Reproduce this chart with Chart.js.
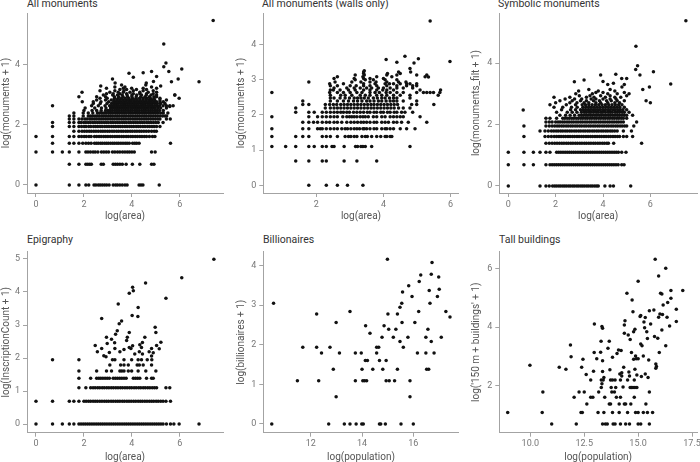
<!DOCTYPE html>
<html><head><meta charset="utf-8">
<script src="https://cdn.jsdelivr.net/npm/chart.js@4.4.1/dist/chart.umd.min.js"></script>
<style>
html,body{margin:0;padding:0;background:#fff;overflow:hidden;width:700px;height:462px;position:relative;}
canvas{position:absolute;}
.ttl{position:absolute;font-family:Roboto,"Liberation Sans",sans-serif;font-size:10.5px;line-height:12px;color:#333;white-space:nowrap;}
</style></head><body>
<div class="ttl" style="left:27px;top:-2px">All monuments</div>
<div class="ttl" style="left:262px;top:-2px">All monuments (walls only)</div>
<div class="ttl" style="left:498px;top:-2px">Symbolic monuments</div>
<div class="ttl" style="left:27px;top:234px">Epigraphy</div>
<div class="ttl" style="left:263px;top:234px">Billionaires</div>
<div class="ttl" style="left:499px;top:234px">Tall buildings</div>
<canvas id="c1" width="230" height="230" style="left:0px;top:0px"></canvas>
<canvas id="c2" width="235" height="230" style="left:230px;top:0px"></canvas>
<canvas id="c3" width="235" height="230" style="left:465px;top:0px"></canvas>
<canvas id="c4" width="230" height="236" style="left:0px;top:232px"></canvas>
<canvas id="c5" width="235" height="236" style="left:230px;top:232px"></canvas>
<canvas id="c6" width="235" height="236" style="left:465px;top:232px"></canvas>
<script>
// ---------- Panel 1: All monuments (y level -> x values) ----------
const p1Levels = [0,0.69,1.1,1.39,1.61,1.79,1.95,2.08,2.2,2.3,2.4,2.48,2.56,2.64,2.71,2.77,2.83,2.89,2.94,3.0,3.04,3.09,3.14,3.18,3.22,3.26,3.33];
const p1Rows = [
[0,1.39,1.79,2.08,2.2,2.42,2.5,2.6,2.68,2.77,2.86,2.95,3.05,3.22,3.32,3.4,3.5,3.6,3.71,3.8,4.3,4.38,4.46,5.14],
[1.39,1.79,2.08,2.16,2.24,2.31,2.72,2.81,3.22,3.31,3.4,3.5,3.6,3.76,4.02,4.33,4.82,4.92],
[0,0.69,1.1,1.39,1.79,2.08,2.17,2.27,2.38,2.47,2.58,2.73,2.83,2.93,3.03,3.19,3.29,3.4,3.5,3.61,3.71,3.81,3.9,4.0,4.1,4.82,4.97],
[0.69,1.39,1.58,1.79,1.95,2.08,2.19,2.3,2.44,2.52,2.6,2.69,2.77,2.86,2.94,3.02,3.11,3.2,3.28,3.37,3.45,3.54,3.63,3.72,3.8,3.89,4.03,4.12,4.2,4.3],
[0,0.69,1.39,1.58,1.79,1.9,2.01,2.1,2.21,2.3,2.44,2.53,2.63,2.72,2.82,2.91,3.0,3.1,3.19,3.29,3.38,3.47,3.57,3.66,3.76,3.85,3.95,4.04,4.14,4.23,4.33,4.42,4.52,4.61,4.73,4.86,4.96],
[1.58,1.79,1.92,2.02,2.12,2.22,2.31,2.41,2.5,2.6,2.7,2.79,2.88,2.98,3.07,3.17,3.26,3.36,3.45,3.55,3.64,3.74,3.83,3.93,4.02,4.12,4.21,4.31,4.4,4.5,4.6,4.7,4.82,4.93,5.02],
[0.69,1.39,1.58,1.79,1.9,2.01,2.09,2.2,2.29,2.4,2.49,2.58,2.68,2.77,2.87,2.96,3.05,3.15,3.24,3.33,3.43,3.52,3.61,3.71,3.8,3.9,3.99,4.08,4.18,4.27,4.36,4.46,4.55,4.65,4.74,4.84,4.93,5.03,5.17],
[0.69,1.39,1.58,1.79,1.88,1.99,2.08,2.18,2.27,2.37,2.46,2.56,2.65,2.74,2.84,2.93,3.02,3.12,3.21,3.31,3.4,3.49,3.59,3.68,3.77,3.87,3.96,4.06,4.15,4.24,4.34,4.43,4.52,4.62,4.71,4.8,4.9,5.0,5.1,5.3],
[1.39,1.58,1.79,1.92,2.04,2.13,2.24,2.33,2.43,2.52,2.62,2.71,2.8,2.9,2.99,3.09,3.18,3.27,3.37,3.46,3.56,3.65,3.74,3.84,3.93,4.03,4.12,4.21,4.31,4.4,4.5,4.59,4.68,4.78,4.88,4.98,5.08,5.17,5.44],
[1.39,1.58,1.97,2.18,2.27,2.36,2.46,2.55,2.64,2.74,2.83,2.92,3.02,3.11,3.2,3.3,3.39,3.48,3.58,3.67,3.76,3.86,3.95,4.04,4.14,4.23,4.32,4.42,4.51,4.6,4.7,4.79,4.88,4.98,5.07,5.17,5.28,5.38],
[1.58,1.97,2.18,2.37,2.56,2.65,2.75,2.84,2.93,3.03,3.12,3.21,3.31,3.4,3.49,3.59,3.68,3.77,3.87,3.96,4.05,4.15,4.24,4.33,4.43,4.52,4.61,4.71,4.8,4.9,4.99,5.09,5.2,5.31,5.5],
[2.0,2.34,2.53,2.72,2.9,3.0,3.09,3.18,3.28,3.37,3.46,3.56,3.65,3.74,3.84,3.93,4.02,4.12,4.21,4.3,4.4,4.49,4.58,4.68,4.77,4.86,4.96,5.05,5.15,5.31],
[2.05,2.45,2.73,2.92,3.11,3.2,3.29,3.39,3.48,3.57,3.67,3.76,3.85,3.95,4.04,4.13,4.23,4.32,4.41,4.51,4.6,4.69,4.79,4.88,4.97,5.08,5.2,5.44],
[0.69,2.32,2.6,2.88,3.07,3.16,3.26,3.35,3.44,3.54,3.63,3.72,3.82,3.91,4.0,4.1,4.19,4.28,4.38,4.47,4.56,4.66,4.75,4.84,4.94,5.04,5.15,5.3,5.44,5.58,5.72],
[2.39,2.68,2.96,3.15,3.25,3.34,3.43,3.53,3.62,3.71,3.81,3.9,3.99,4.09,4.18,4.27,4.37,4.46,4.55,4.65,4.74,4.84,4.95,5.06,5.2,5.38],
[1.93,2.39,2.71,3.03,3.24,3.34,3.45,3.55,3.66,3.76,3.87,3.97,4.08,4.18,4.29,4.39,4.5,4.6,4.71,4.81,4.92,5.03,5.17,5.31],
[2.53,2.9,3.14,3.26,3.38,3.5,3.62,3.74,3.86,3.98,4.1,4.22,4.34,4.46,4.58,4.7,4.82,4.95,5.17,5.44],
[2.67,2.97,3.27,3.42,3.57,3.72,3.87,4.02,4.17,4.32,4.47,4.62,4.77,4.92,5.17,5.97],
[1.79,2.53,2.9,3.27,3.45,3.63,3.82,4.0,4.18,4.37,4.55,4.73,4.92,5.03],
[2.81,3.2,3.4,3.6,3.8,4.0,4.2,4.4,4.6,4.8,5.03,5.79],
[2.94,3.22,3.5,3.78,4.06,4.33,4.61,4.89],
[1.92,3.08,3.43,3.64,3.92,4.33,4.68,5.03],
[2.67,3.29,3.67,4.06,4.47,4.89],
[3.5,3.78,4.19,4.61],
[2.94,3.64,3.99,4.47,5.03],
[3.29,3.71,4.82],
[3.57,4.58]
];
const p1Extra = [[7.39,5.48],[5.33,4.7],[5.42,4.06],[5.33,3.94],[6.08,3.86],[6.8,3.44],[5.93,3.53],[5.65,3.44],[5.79,3.0],[5.54,3.78],[5.03,3.61],[4.82,3.78],[4.47,3.74],[3.88,3.72],[4.06,3.59],[3.19,3.53],[5.61,1.39],[5.58,2.61],[4.9,3.45],[4.6,3.4],[5.2,3.3],[3.3,3.4],[2.7,3.3],[5.45,2.3],[5.6,2.2]];

// ---------- Panel 2: All monuments (walls only) ----------
const p2Levels = [0,0.69,1.1,1.39,1.61,1.79,1.95,2.08,2.2,2.3,2.4,2.48,2.56,2.64,2.71,2.77,2.83,2.89,2.94,3.0,3.04,3.09,3.14,3.18,3.22,3.26];
const p2Rows = [
[1.78,2.3,2.63,2.93,3.39],
[1.39,1.78,2.18,2.3,2.83,3.21,3.8],
[0.68,1.09,1.39,1.78,1.94,2.18,2.3,2.47,2.53,2.83,3.17,3.23,3.33,3.39,3.46,3.65,4.79],
[0.68,1.39,1.6,1.78,2.18,2.3,2.42,2.63,2.86,2.96,3.03,3.13,3.21,3.36,3.46,3.52,3.65,3.8,3.92,4.05,4.1,4.2,4.25],
[0.68,1.6,1.78,2.04,2.12,2.18,2.3,2.42,2.53,2.63,2.76,2.86,2.93,3.03,3.13,3.21,3.29,3.39,3.43,3.5,3.6,3.72,3.8,3.95,4.05,4.1,4.2,4.3,4.5,4.69,4.94],
[1.6,1.78,1.92,2.04,2.18,2.3,2.4,2.53,2.63,2.76,2.91,3.03,3.13,3.23,3.33,3.41,3.5,3.6,3.72,3.8,3.95,4.05,4.15,4.3,4.4,4.54,4.74,5.29],
[0.68,1.78,2.04,2.18,2.3,2.42,2.53,2.63,2.79,2.91,2.99,3.06,3.13,3.21,3.31,3.39,3.46,3.55,3.7,3.8,3.95,4.05,4.2,4.3,4.4,4.5,4.59,5.09],
[1.39,1.78,1.94,2.18,2.3,2.42,2.53,2.63,2.73,2.81,2.91,2.99,3.11,3.21,3.31,3.41,3.52,3.6,3.72,3.8,3.92,4.0,4.12,4.2,4.32,4.4,4.54,4.64,4.87],
[1.39,2.27,2.42,2.53,2.63,2.73,2.83,2.93,3.03,3.13,3.23,3.33,3.43,3.53,3.63,3.72,3.82,3.92,4.02,4.12,4.22,4.32,4.45,4.59,4.79],
[1.6,1.78,2.27,2.4,2.51,2.61,2.73,2.83,2.93,3.03,3.13,3.23,3.33,3.43,3.53,3.63,3.72,3.82,3.92,4.02,4.12,4.22,4.32,4.42,4.84,4.99,5.5],
[1.6,2.42,2.63,2.81,2.96,3.11,3.23,3.36,3.5,3.6,3.72,3.85,3.95,4.08,4.2,4.3,4.4,4.59,4.99],
[2.42,2.53,2.71,2.86,2.99,3.13,3.23,3.33,3.43,3.55,3.7,3.82,3.95,4.05,4.18,4.3,4.4,4.79],
[2.42,2.73,2.86,3.06,3.31,3.46,3.6,3.8,3.95,4.1,4.3,4.5,4.79,5.63],
[0.68,2.4,2.63,2.81,3.01,3.21,3.36,3.6,3.75,3.88,4.08,4.2,4.4,4.59,4.99,5.19,5.29,5.39,5.49,5.68],
[2.42,2.51,2.71,2.96,3.16,3.41,3.6,3.8,3.98,4.1,4.3,5.09,5.7],
[2.53,2.91,3.13,3.31,3.5,3.65,3.85,4.0,4.2,4.4,4.59,4.87],
[2.42,2.63,3.01,3.19,3.41,3.6,3.8,4.1,4.4,4.69,4.87,4.99],
[2.4,2.81,3.41,3.75,4.05,4.18,4.3,4.5,4.69,4.79,4.99],
[1.78,2.56,3.06,3.33,3.6,3.78,4.1,4.45,4.67],
[3.16,3.46,3.7,4.05,4.4],
[2.53,3.13,3.41,3.6,4.0],
[2.63,3.39,3.8,4.25,5.24],
[3.16,3.43,4.1,4.4,4.99],
[3.41,4.12,4.5],
[3.41,4.45,4.81],
[3.43]
];
const p2Extra = [[5.39,4.67],[5.98,3.52],[4.08,3.58],[4.64,3.67],[5.04,3.6],[4.4,3.5],[4.91,3.48],[4.79,3.32],[5.29,3.14],[5.34,3.08]];

// ---------- Panel 3: Symbolic monuments ----------
const p3Levels = [0,0.69,1.1,1.39,1.61,1.79,1.95,2.08,2.2,2.3,2.4,2.48,2.56,2.64,2.71,2.77,2.83,2.89,2.94,3.0,3.04,3.09,3.14,3.22];
const p3Rows = [
[0,1.34,1.59,1.73,1.87,1.96,2.04,2.13,2.21,2.3,2.38,2.46,2.55,2.63,2.72,2.8,2.89,2.97,3.06,3.14,3.22,3.31,3.39,3.48,3.56,3.65,3.73,3.8,4.08,4.3,4.44,5.17],
[0,0.66,1.06,1.59,1.76,1.85,1.94,2.03,2.12,2.21,2.3,2.39,2.48,2.57,2.66,2.75,2.84,2.93,3.02,3.11,3.2,3.29,3.38,3.47,3.56,3.65,3.74,3.83,3.92,4.01,4.1,4.19,4.28,4.37,4.46,4.55,4.64,4.79,4.89],
[0,0.66,1.06,1.34,1.59,1.76,2.04,2.13,2.22,2.31,2.4,2.49,2.58,2.67,2.76,2.85,2.94,3.03,3.12,3.21,3.3,3.39,3.48,3.57,3.66,3.75,3.84,3.93,4.02,4.11,4.2,4.29,4.38,4.47,4.56,4.65,4.79,4.97],
[1.59,1.73,1.85,1.96,2.06,2.16,2.26,2.35,2.45,2.54,2.64,2.73,2.83,2.92,3.02,3.11,3.21,3.3,3.4,3.49,3.59,3.68,3.78,3.87,3.97,4.06,4.16,4.23,4.45,5.63],
[0.66,1.55,1.69,1.82,1.94,2.04,2.14,2.23,2.33,2.42,2.52,2.61,2.71,2.8,2.9,2.99,3.09,3.18,3.28,3.37,3.47,3.56,3.66,3.75,3.85,3.94,4.04,4.13,4.23,4.32,4.42,4.51,4.61,4.7,4.86,5.0,5.25],
[1.34,1.55,1.69,1.82,1.92,2.02,2.11,2.21,2.3,2.4,2.49,2.59,2.68,2.78,2.87,2.97,3.06,3.16,3.25,3.35,3.44,3.54,3.63,3.73,3.82,3.92,4.01,4.11,4.2,4.3,4.39,4.49,4.6,4.86,5.2],
[0.66,1.59,1.73,1.85,1.96,2.06,2.15,2.25,2.34,2.44,2.53,2.63,2.72,2.82,2.91,3.01,3.1,3.2,3.29,3.39,3.48,3.58,3.67,3.77,3.86,3.96,4.05,4.15,4.24,4.34,4.43,4.53,4.62,4.72,4.81,4.91,5.0,5.3],
[1.59,1.73,1.85,2.0,2.1,2.19,2.29,2.38,2.48,2.57,2.67,2.76,2.86,2.95,3.05,3.14,3.24,3.33,3.43,3.52,3.62,3.71,3.81,3.9,4.0,4.09,4.19,4.28,4.38,4.47,4.57,4.66,4.76,4.86,5.42],
[1.59,1.76,2.04,2.3,2.39,2.49,2.58,2.68,2.77,2.87,2.96,3.06,3.15,3.25,3.34,3.44,3.53,3.63,3.72,3.82,3.91,4.01,4.1,4.2,4.29,4.39,4.48,4.58,4.67,4.77,4.86,5.0],
[2.18,2.42,2.61,2.8,2.99,3.09,3.18,3.28,3.37,3.47,3.56,3.66,3.75,3.85,3.94,4.04,4.13,4.23,4.32,4.42,4.51,4.61,4.7,4.8,4.9,5.0,5.25],
[2.04,2.49,2.7,2.9,3.09,3.21,3.3,3.41,3.49,3.6,3.71,3.8,3.91,3.99,4.1,4.21,4.3,4.39,4.51,4.6,4.7,4.81,4.9,5.1],
[2.25,2.63,2.84,3.05,3.16,3.26,3.37,3.47,3.58,3.68,3.79,3.89,4.0,4.1,4.21,4.31,4.42,4.52,4.63,4.73,4.84,5.0],
[1.93,2.3,2.67,2.91,3.15,3.27,3.39,3.51,3.63,3.75,3.87,3.99,4.11,4.23,4.35,4.47,4.59,4.71,4.9],
[1.76,2.45,2.84,3.12,3.26,3.4,3.54,3.68,3.82,3.96,4.1,4.24,4.38,4.52,4.66,4.8],
[2.0,2.6,2.9,3.2,3.4,3.7,3.9,4.2,4.5,4.7,6.0],
[2.18,2.7,3.05,3.3,3.6,3.85,4.15,4.35,4.6,4.9,5.82],
[2.4,2.8,3.1,3.5,3.7,4.0,4.3,4.55],
[1.93,2.6,3.3,3.62,4.1,4.5,4.75],
[3.0,3.45,3.9,4.3,5.0],
[2.85,3.55,4.2,4.6,5.1],
[3.7,4.0,4.9],
[2.97,3.8,4.5],
[3.4,4.3,5.68],
[4.8,5.96]
];
const p3Extra = [[7.5,5.38],[5.39,4.55],[5.46,3.91],[5.38,3.79],[6.13,3.72],[5.56,3.61],[6.86,3.32],[3.9,3.61],[4.54,3.64],[4.79,3.5],[5.0,3.5],[3.2,3.45],[4.44,3.34],[2.79,3.39],[0.63,2.47],[4.2,3.3],[4.9,3.3],[4.0,3.4]];

// ---------- Panel 4: Epigraphy ----------
const p4Levels = [0,0.69,1.1,1.39,1.61,1.79,1.95];
const p4Rows = [
[0,0.69,1.1,1.39,1.58,1.79,1.88,1.97,2.06,2.15,2.24,2.33,2.42,2.51,2.6,2.69,2.78,2.87,2.96,3.05,3.14,3.23,3.32,3.41,3.5,3.59,3.68,3.77,3.86,3.95,4.04,4.13,4.22,4.31,4.4,4.49,4.58,4.67,4.76,4.85,4.94,5.03,5.12,5.21,5.3,5.44,5.61,5.75,5.97,6.8],
[0,0.69,1.39,1.58,1.79,2.0,2.09,2.19,2.28,2.38,2.47,2.56,2.66,2.75,2.85,2.94,3.03,3.13,3.22,3.32,3.41,3.5,3.6,3.69,3.79,3.88,3.97,4.07,4.16,4.26,4.35,4.44,4.54,4.63,4.73,4.82,4.91,5.01,5.1,5.2,5.3,5.42,5.61],
[1.79,2.08,2.28,2.38,2.47,2.57,2.66,2.76,2.85,2.95,3.04,3.14,3.23,3.33,3.42,3.52,3.61,3.71,3.8,3.9,3.99,4.09,4.18,4.28,4.37,4.47,4.56,4.66,4.75,4.85,4.94,5.03,5.42,5.58],
[1.79,2.28,2.53,2.62,2.7,2.79,2.88,2.97,3.06,3.22,3.31,3.4,3.49,3.58,3.67,3.76,4.06,4.15,4.24,4.33,4.61,4.82,4.89],
[1.79,2.53,2.94,3.15,3.5,3.58,3.67,3.85,3.99,4.26,4.58,5.0],
[3.08,3.53,3.67,3.85,4.22,4.31,4.47,4.82],
[0.69,1.79,3.19,3.29,3.67,3.99,4.26,4.4,4.64,4.83]
];
const p4Extra = [[7.42,4.99],[6.08,4.43],[4.57,4.27],[4.03,4.14],[4.06,4.04],[3.89,3.96],[5.42,3.81],[3.43,3.64],[4.26,3.53],[3.57,3.12],[3.47,3.04],[2.74,3.2],[4.01,3.29],[4.25,3.26],[3.39,2.83],[3.32,2.72],[4.97,2.93],[5.0,2.77],[3.89,2.77],[2.94,2.63],[3.81,2.63],[4.54,2.63],[3.15,2.57],[3.28,2.46],[2.47,2.38],[3.78,2.53],[5.21,2.48],[4.44,2.47],[5.03,2.38],[5.14,2.28],[2.56,2.19],[2.74,2.29],[2.97,2.44],[2.83,2.07],[3.06,2.17],[3.29,2.29],[3.5,2.19],[3.67,2.26],[3.89,2.32],[3.96,2.29],[4.03,2.37],[4.12,2.12],[4.31,2.19],[4.44,2.12],[4.72,2.19],[4.82,2.06],[4.89,2.16],[4.33,2.4],[4.4,2.32],[4.82,2.29],[2.92,2.04]];

// ---------- Panel 5: Billionaires [log(population), log(billionaires+1)] ----------
const p5Pts = [[10.48,0],[10.55,3.05],[11.48,1.09],[11.69,1.94],[12.23,2.78],[12.23,1.94],[12.31,1.09],[12.42,1.79],[12.7,0],[12.75,1.94],[12.88,1.38],[12.99,2.56],[12.99,0.69],[13.12,1.79],[13.31,0],[13.53,2.84],[13.53,0],[13.74,1.79],[13.74,1.09],[13.77,0],[13.97,1.79],[14.0,1.38],[13.99,0],[14.05,0],[14.03,1.09],[14.1,1.09],[14.18,1.09],[14.13,1.6],[14.21,1.6],[14.14,2.48],[14.31,2.29],[14.42,1.38],[14.57,1.94],[14.65,1.94],[14.57,1.79],[14.68,1.6],[14.68,0],[14.73,0],[14.78,2.19],[14.81,1.38],[14.86,2.48],[14.91,0],[14.94,1.6],[14.94,1.09],[14.99,4.16],[15.01,2.78],[15.04,2.39],[15.06,1.09],[15.22,2.19],[15.27,1.09],[15.32,2.39],[15.38,2.78],[15.38,1.38],[15.48,2.95],[15.48,2.08],[15.52,0],[15.55,3.05],[15.56,2.56],[15.58,3.33],[15.61,1.94],[15.79,2.19],[15.82,3.49],[15.87,1.09],[15.87,0.69],[15.95,3.22],[16.0,0],[16.06,2.56],[16.16,1.79],[16.21,2.84],[16.23,3.6],[16.29,3.76],[16.49,1.79],[16.49,2.19],[16.52,1.38],[16.6,1.38],[16.57,2.39],[16.62,3.37],[16.65,3.05],[16.7,2.08],[16.73,4.08],[16.7,3.78],[16.81,1.79],[16.94,3.22],[16.99,3.71],[17.01,3.4],[17.09,2.19],[17.27,2.84],[17.43,2.7]];

// ---------- Panel 6: Tall buildings [log(population), log(150 m+ buildings + 1)] ----------
const p6Pts = [[8.95,1.08],[9.98,2.7],[10.55,1.08],[10.58,1.78],[10.99,0.69],[11.34,2.63],[11.65,2.56],[11.86,3.39],[11.89,2.99],[12.03,1.6],[12.13,0.69],[12.26,1.78],[12.35,1.08],[12.41,1.08],[12.38,2.63],[12.44,2.9],[12.5,1.78],[12.59,2.38],[12.62,1.37],[12.8,2.19],[12.8,1.6],[12.9,1.6],[12.93,2.49],[12.96,3.13],[12.97,4.11],[13.08,2.92],[13.14,1.08],[13.17,1.78],[13.26,3.14],[13.28,3.52],[13.29,2.19],[13.32,2.06],[13.29,1.94],[13.32,4.02],[13.35,3.96],[13.35,0.69],[13.48,0.69],[13.57,0.69],[13.35,2.85],[13.35,2.48],[13.38,2.19],[13.41,1.08],[13.41,2.28],[13.45,1.6],[13.6,3.28],[13.66,3.52],[13.66,1.37],[13.72,1.37],[13.69,2.54],[13.72,2.19],[13.81,2.19],[13.75,1.94],[13.78,1.78],[13.81,2.97],[13.81,1.08],[13.84,0.69],[13.93,0.69],[13.9,1.78],[13.93,2.19],[13.96,1.94],[13.99,1.6],[14.02,3.1],[14.09,3.22],[14.12,1.37],[14.12,1.08],[14.15,2.4],[14.18,1.6],[14.18,2.19],[14.18,0.69],[14.21,3.2],[14.24,2.44],[14.24,2.33],[14.3,1.95],[14.33,2.63],[14.36,1.37],[14.42,1.37],[14.36,4.07],[14.36,3.79],[14.39,4.22],[14.42,0.69],[14.48,5.16],[14.51,2.19],[14.51,1.08],[14.54,3.73],[14.57,2.47],[14.6,2.33],[14.6,0.69],[14.63,3.58],[14.63,1.94],[14.66,1.37],[14.69,1.94],[14.76,1.94],[14.69,3.13],[14.72,4.93],[14.76,4.53],[14.79,3.84],[14.79,2.9],[14.82,2.19],[14.82,1.6],[14.85,3.93],[14.88,3.01],[14.85,2.56],[14.85,1.94],[14.94,1.94],[14.88,1.08],[14.91,2.92],[14.94,2.36],[15.0,5.57],[15.0,2.92],[15.0,1.08],[15.0,0.69],[15.12,0.69],[15.09,4.36],[15.12,4.4],[15.12,3.42],[15.15,2.31],[15.18,3.36],[15.24,1.08],[15.24,3.01],[15.27,4.18],[15.3,3.98],[15.33,2.4],[15.33,4.33],[15.36,1.37],[15.4,3.84],[15.43,1.08],[15.43,3.61],[15.46,2.28],[15.49,2.88],[15.52,4.56],[15.52,1.78],[15.52,0.69],[15.58,4.11],[15.67,1.08],[15.73,4.59],[15.76,3.68],[15.79,6.32],[15.82,2.74],[15.82,2.59],[15.85,2.65],[15.91,3.62],[15.95,5.75],[15.95,4.34],[15.98,3.13],[16.01,4.45],[16.04,5.16],[16.1,5.13],[16.1,3.9],[16.13,4.43],[16.16,4.76],[16.28,6.01],[16.28,3.36],[16.34,4.34],[16.37,4.84],[16.46,4.04],[16.52,5.25],[16.52,4.99],[16.77,4.19],[16.77,4.61],[17.07,5.25]];

// ---------- Axis ticks / labels ----------
const p1XTicks=[0,2,4,6], p1YTicks=[0,2,4];
const p2XTicks=[2,4,6], p2YTicks=[0,1,2,3,4];
const p3XTicks=[0,2,4,6], p3YTicks=[0,2,4];
const p4XTicks=[0,2,4,6], p4YTicks=[0,1,2,3,4,5];
const p5XTicks=[12,14,16], p5YTicks=[0,1,2,3,4];
const p6XTicks=[10,12.5,15,17.5], p6XLabels=['10.0','12.5','15.0','17.5'], p6YTicks=[2,4,6];

const FONT = 'Roboto, "Liberation Sans", sans-serif';
Chart.defaults.font.family = FONT;

function fromRows(levels, rows, extra){
  const pts = [];
  rows.forEach((r,i)=>r.forEach(x=>pts.push({x:x, y:levels[i]})));
  (extra||[]).forEach(p=>pts.push({x:p[0], y:p[1]}));
  return pts;
}
function fromPairs(arr){ return arr.map(p=>({x:p[0], y:p[1]})); }

const AXIS_C = '#a3a3a3';
function axis(min, max, ticks, labels, title, isX, size){
  return {
    type:'linear', min:min, max:max,
    afterBuildTicks: s => { s.ticks = ticks.map(v=>({value:v})); },
    afterFit: s => {
      if (isX) s.height = size; else s.width = size;
      s.paddingLeft = 0; s.paddingRight = 0; s.paddingTop = 0; s.paddingBottom = 0;
    },
    ticks:{autoSkip:false, maxRotation:0, color:'#777', font:{size:9, family:FONT}, padding: isX?2:3,
      callback:(v,i)=> labels ? labels[i] : String(ticks[i])},
    grid:{drawOnChartArea:false, drawTicks:true, tickLength:4, color:AXIS_C, lineWidth:1},
    border:{display:true, color:AXIS_C, width:1},
    title:{display:true, text:title, color:'#555', font:{size:10, family:FONT, lineHeight:1.2}, padding:0}
  };
}

function panel(id, data, L, pads, B, xs, ys){
  new Chart(document.getElementById(id), {
    type:'scatter',
    data:{datasets:[{data:data, pointRadius:1.75, pointHoverRadius:1.75, pointBackgroundColor:'#111', pointBorderWidth:0, showLine:false}]},
    options:{
      responsive:false, animation:false, events:[], devicePixelRatio: window.devicePixelRatio || 1,
      layout:{padding:pads},
      plugins:{legend:{display:false}, tooltip:{enabled:false}, title:{display:false}},
      scales:{
        x: axis(xs[0], xs[1], xs[2], xs[3], xs[4], true, B),
        y: axis(ys[0], ys[1], ys[2], ys[3], ys[4], false, L)
      }
    }
  });
}

// Row 1 (canvas height 230): plot top 13, bottom 193
panel('c1', fromRows(p1Levels,p1Rows,p1Extra), 26.3, {left:0.7,top:13,right:7,bottom:8}, 29,
  [-0.375,7.8,p1XTicks,null,'log(area)'], [-0.27,5.73,p1YTicks,null,'log(monuments + 1)']);
panel('c2', fromRows(p2Levels,p2Rows,p2Extra), 27.6, {left:5.7,top:13,right:6.3,bottom:8}, 29,
  [0.425,6.24,p2XTicks,null,'log(area)'], [-0.22,4.9,p2YTicks,null,'log(monuments + 1)']);
panel('c3', fromRows(p3Levels,p3Rows,p3Extra), 29.3, {left:5,top:13,right:3,bottom:8}, 29,
  [-0.38,7.97,p3XTicks,null,'log(area)'], [-0.23,5.63,p3YTicks,null,'log(monuments_filt + 1)']);
// Row 2 (canvas top 232, height 236): plot top 251.7, bottom 432.7
panel('c4', fromRows(p4Levels,p4Rows,p4Extra), 26.3, {left:0.7,top:19.7,right:7,bottom:5}, 30.3,
  [-0.375,7.8,p4XTicks,null,'log(area)'], [-0.26,5.22,p4YTicks,null,'log(InscriptionCount + 1)']);
panel('c5', fromPairs(p5Pts), 27.6, {left:5.7,top:19.7,right:6.3,bottom:5}, 30.3,
  [10.15,17.77,p5XTicks,null,'log(population)'], [-0.22,4.35,p5YTicks,null,'log(billionaires + 1)']);
panel('c6', fromPairs(p6Pts), 29.3, {left:5,top:19.7,right:3,bottom:5}, 30.3,
  [8.56,17.73,p6XTicks,p6XLabels,'log(population)'], [0.39,6.58,p6YTicks,null,"log('150 m + buildings' + 1)"]);
</script>
</body></html>
